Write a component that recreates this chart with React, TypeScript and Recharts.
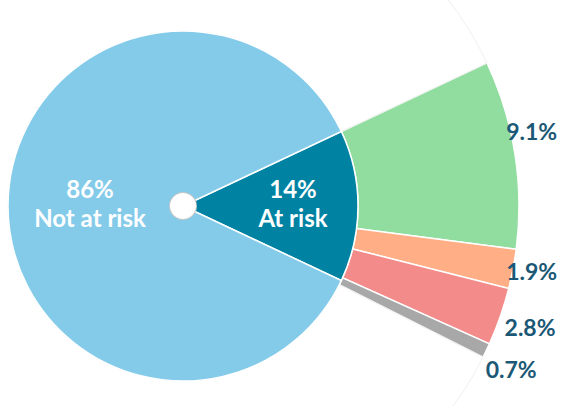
import React from 'react';
import { PieChart, Pie, Cell } from 'recharts';

// main split
const mainNames = ['At risk', 'Not at risk'];
const mainValues = [14, 86];

// breakdown of the at-risk share
const breakdownLabels = ['9.1%', '1.9%', '2.8%', '0.7%'];
const breakdownValues = [9.1, 1.9, 2.8, 0.7];

const MAIN_COLORS = ['#0083A3', '#84CBEA'];
const BREAKDOWN_COLORS = ['#91DDA0', '#FFAE85', '#F28B89', '#A8A8A8'];
const LABEL_DARK = '#1B5876';
const RAD = Math.PI / 180;
const START = (mainValues[0] / 100) * 180;

const mainData = mainNames.map((name, i) => ({ name, value: mainValues[i] }));
const outerData = [
  ...breakdownValues.map((value, i) => ({ name: breakdownLabels[i], value })),
  { name: 'rest', value: mainValues[1] },
];

const textStyle = { fontFamily: 'Lato, "Noto Sans", sans-serif', fontWeight: 700, fontSize: 24 };

const renderMainLabel = (props: any) => {
  const { cx, cy, midAngle, index, payload } = props;
  const r = index === 0 ? 110 : 93;
  const x = cx + r * Math.cos(-midAngle * RAD);
  const y = cy + r * Math.sin(-midAngle * RAD);
  return (
    <text x={x} y={y} fill="#fff" textAnchor="middle" style={textStyle}>
      <tspan x={x} dy={-8}>{`${payload.value}%`}</tspan>
      <tspan x={x} dy={29}>{payload.name}</tspan>
    </text>
  );
};

// small nudges so the labels sit where the original put them
const LABEL_NUDGE = [
  [-5, -20],
  [-3, -2],
  [9, 3],
  [5, 9],
];

const renderOuterLabel = (props: any) => {
  const { cx, cy, midAngle, outerRadius, index } = props;
  if (index >= breakdownLabels.length) return null;
  const r = outerRadius + 22;
  const x = cx + r * Math.cos(-midAngle * RAD) + LABEL_NUDGE[index][0];
  const y = cy + r * Math.sin(-midAngle * RAD) + LABEL_NUDGE[index][1];
  return (
    <text
      x={x}
      y={y}
      fill={LABEL_DARK}
      textAnchor="middle"
      dominantBaseline="central"
      style={{ ...textStyle, fontSize: 23 }}
    >
      {breakdownLabels[index]}
    </text>
  );
};

export default function App() {
  return (
    <div style={{ position: 'fixed', top: 0, left: 0, width: 561, height: 406, background: '#fff' }}>
      <PieChart width={561} height={406} margin={{ top: 0, right: 0, bottom: 0, left: 0 }}>
        <Pie
          data={outerData}
          dataKey="value"
          cx={183}
          cy={206}
          innerRadius={175}
          outerRadius={336}
          startAngle={START}
          endAngle={START - 360}
          label={renderOuterLabel}
          labelLine={false}
          isAnimationActive={false}
        >
          {outerData.map((d, i) => (
            <Cell
              key={d.name}
              fill={i < BREAKDOWN_COLORS.length ? BREAKDOWN_COLORS[i] : '#fff'}
              stroke={i < BREAKDOWN_COLORS.length ? '#fff' : '#e4e4e4'}
              strokeWidth={i < BREAKDOWN_COLORS.length ? 1.5 : 0.6}
            />
          ))}
        </Pie>
        <Pie
          data={mainData}
          dataKey="value"
          cx={183}
          cy={206}
          innerRadius={0}
          outerRadius={175}
          startAngle={START}
          endAngle={START - 360}
          label={renderMainLabel}
          labelLine={false}
          isAnimationActive={false}
        >
          {mainData.map((d, i) => (
            <Cell key={d.name} fill={MAIN_COLORS[i]} stroke="#fff" strokeWidth={1.5} />
          ))}
        </Pie>
        {/* centre hole with a faint rim */}
        <Pie
          data={[{ name: 'rim', value: 1 }]}
          dataKey="value"
          cx={183}
          cy={206}
          innerRadius={0}
          outerRadius={14}
          fill="#c8c8c8"
          stroke="none"
          isAnimationActive={false}
        />
        <Pie
          data={[{ name: 'hole', value: 1 }]}
          dataKey="value"
          cx={183}
          cy={206}
          innerRadius={0}
          outerRadius={13}
          fill="#fff"
          stroke="none"
          isAnimationActive={false}
        />
      </PieChart>
    </div>
  );
}
